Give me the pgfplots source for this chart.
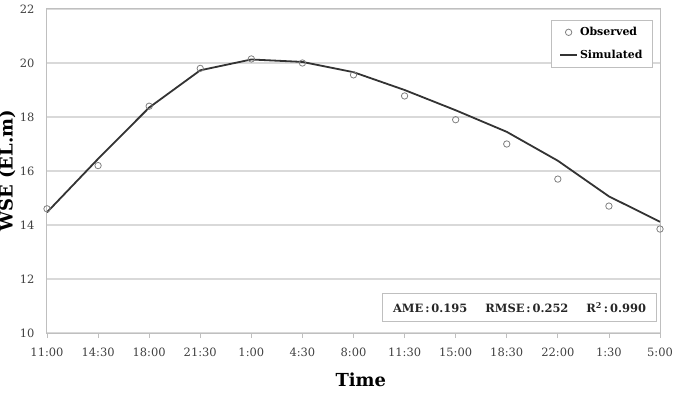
\documentclass[border=0pt]{standalone}
\usepackage{fontspec}
\setmainfont{DejaVu Serif}
\usepackage{pgfplots}
\pgfplotsset{compat=1.18}
\definecolor{tickgray}{HTML}{404040}
\definecolor{gridgray}{HTML}{D9D9D9}
\definecolor{boxgray}{HTML}{BFBFBF}
\definecolor{markgray}{HTML}{808080}
\definecolor{linegray}{HTML}{333333}
\begin{document}
\begin{tikzpicture}
\begin{axis}[
  scale only axis, width=613bp, height=324bp,
  xmin=0, xmax=12, ymin=10, ymax=22,
  xtick={0,...,12},
  xticklabels={11:00,14:30,18:00,21:30,1:00,4:30,8:00,11:30,15:00,18:30,22:00,1:30,5:00},
  ytick={10,12,...,22},
  ymajorgrids, grid style={draw=gridgray, line width=1.2bp},
  axis line style={draw=boxgray, line width=1bp},
  xtick style={draw=boxgray, line width=0.8bp},
  ytick style={draw=none},
  tick align=outside, tick pos=left, major tick length=5bp,
  /pgf/number format/assume math mode=true,
  tick label style={font=\fontsize{11.5}{13}\selectfont, text=tickgray},
  yticklabel style={xshift=-4bp},
  xticklabel style={yshift=-6bp},
  xlabel={Time}, ylabel={WSE (EL.m)},
  xlabel style={font=\bfseries\fontsize{18}{20}\selectfont, at={(axis description cs:0.512,-0.145)}, anchor=center},
  ylabel style={font=\bfseries\fontsize{18}{20}\selectfont, at={(axis description cs:-0.065,0.5)}, anchor=center, rotate=0},
  legend style={at={(rel axis cs:0.9886,0.966)}, anchor=north east, draw=boxgray, line width=0.8bp,
    font=\bfseries\fontsize{11}{13}\selectfont, row sep=9bp, inner xsep=8bp, inner ysep=5bp},
  legend cell align=left,
]
\addplot[only marks, mark=o, mark size=3.2bp, draw=markgray, line width=0.8bp] coordinates {
 (0,14.6) (1,16.2) (2,18.4) (3,19.8) (4,20.15) (5,20.0) (6,19.56) (7,18.78) (8,17.9) (9,17.0) (10,15.7) (11,14.7) (12,13.85)};
\addlegendentry{Observed}
\addplot[linegray, line width=1.8bp, mark=none] coordinates {
 (0,14.47) (1,16.45) (2,18.35) (3,19.73) (4,20.13) (5,20.04) (6,19.66) (7,19.0) (8,18.25) (9,17.45) (10,16.38) (11,15.06) (12,14.12)};
\addlegendentry{Simulated}
\node[draw=boxgray, line width=0.8bp, fill=white, anchor=south east, minimum width=274bp, minimum height=28bp,
  font=\bfseries\fontsize{11.5}{13}\selectfont, text=black!85] at (rel axis cs:0.995,0.034)
  {AME\,:\,0.195\hspace{18bp}RMSE\,:\,0.252\hspace{18bp}R\textsuperscript{2}\,:\,0.990};
\end{axis}
\pgfresetboundingbox
\path[use as bounding box] ([shift={(-47bp,-61bp)}]current axis.south west) rectangle ([shift={(14bp,9bp)}]current axis.north east);
\end{tikzpicture}
\end{document}
